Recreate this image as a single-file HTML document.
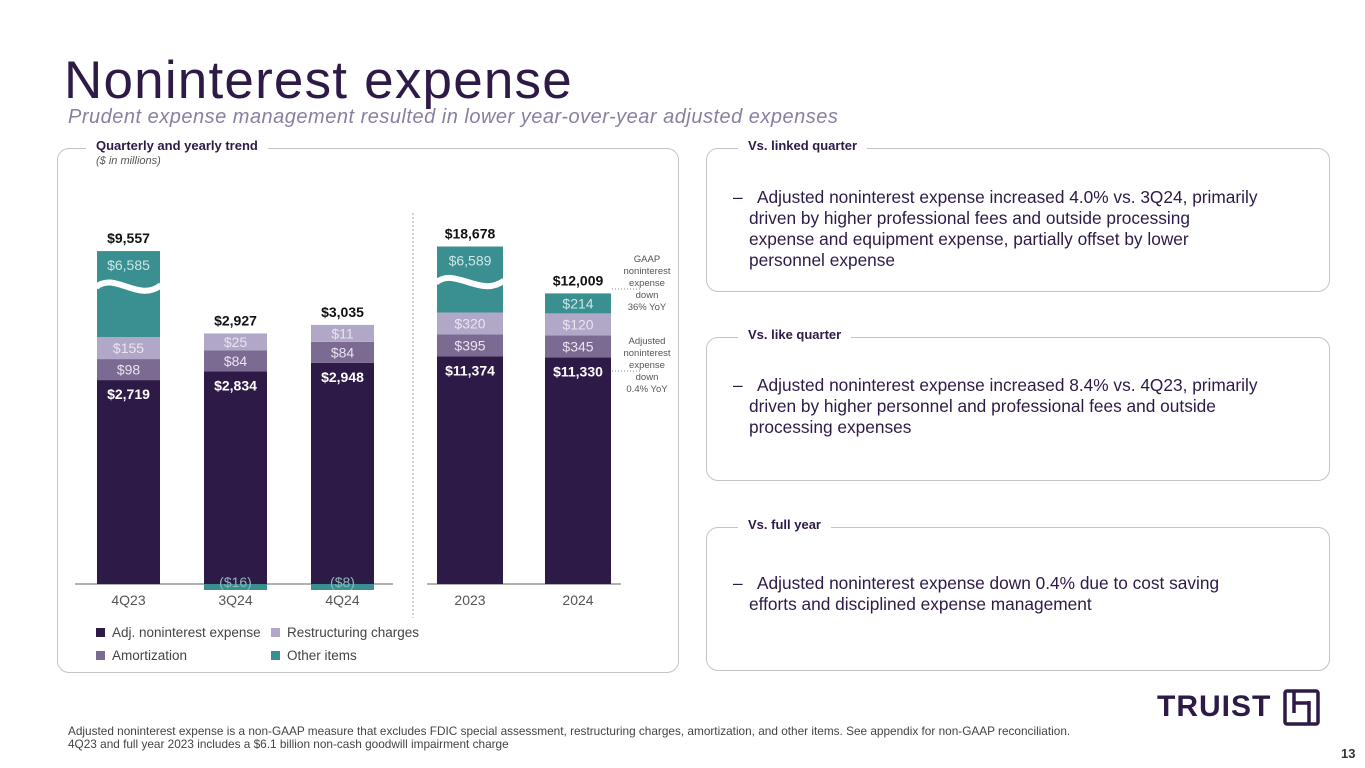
<!DOCTYPE html>
<html><head><meta charset="utf-8"><style>
body{margin:0;width:1365px;height:768px;background:#fff;font-family:"Liberation Sans",sans-serif;position:relative;overflow:hidden;color:#2e1a47}
.abs{position:absolute}
.box{position:absolute;border:1.5px solid #c4c4c8;border-radius:12px}
.hdr{position:absolute;background:#fff;padding:0 10px;font-weight:bold;font-size:13px;color:#2e1a47}
.txt{position:absolute;font-size:17.3px;line-height:21px;color:#2e1a47}
</style></head><body>
<div class="abs" style="left:64px;top:50px;font-size:53px;letter-spacing:1.2px;color:#2e1a47">Noninterest expense</div>
<div class="abs" style="left:68px;top:106px;font-size:20px;letter-spacing:0.5px;font-style:italic;color:#8a7fa0">Prudent expense management resulted in lower year-over-year adjusted expenses</div>

<div class="box" style="left:57px;top:148px;width:620px;height:523px"></div>
<div class="hdr" style="left:86px;top:138px">Quarterly and yearly trend</div>
<div class="abs" style="left:96px;top:155px;font-size:11px;font-style:italic;color:#555">($ in millions)</div>

<div class="box" style="left:706px;top:148px;width:622px;height:142px"></div>
<div class="hdr" style="left:738px;top:138px">Vs. linked quarter</div>
<div class="txt" style="left:733px;top:187px;width:590px">–&nbsp;&nbsp;&nbsp;Adjusted noninterest expense increased 4.0% vs. 3Q24, primarily<br><span style="padding-left:16px">driven by higher professional fees and outside processing</span><br><span style="padding-left:16px">expense and equipment expense, partially offset by lower</span><br><span style="padding-left:16px">personnel expense</span></div>

<div class="box" style="left:706px;top:337px;width:622px;height:142px"></div>
<div class="hdr" style="left:738px;top:327px">Vs. like quarter</div>
<div class="txt" style="left:733px;top:375px;width:590px">–&nbsp;&nbsp;&nbsp;Adjusted noninterest expense increased 8.4% vs. 4Q23, primarily<br><span style="padding-left:16px">driven by higher personnel and professional fees and outside</span><br><span style="padding-left:16px">processing expenses</span></div>

<div class="box" style="left:706px;top:527px;width:622px;height:142px"></div>
<div class="hdr" style="left:738px;top:517px">Vs. full year</div>
<div class="txt" style="left:733px;top:573px;width:590px">–&nbsp;&nbsp;&nbsp;Adjusted noninterest expense down 0.4% due to cost saving<br><span style="padding-left:16px">efforts and disciplined expense management</span></div>

<svg class="abs" style="left:0;top:0" width="700" height="700" id="chart"></svg>

<div class="abs" style="left:68px;top:725px;font-size:11.8px;line-height:13px;color:#444">Adjusted noninterest expense is a non-GAAP measure that excludes FDIC special assessment, restructuring charges, amortization, and other items. See appendix for non-GAAP reconciliation.<br>4Q23 and full year 2023 includes a $6.1 billion non-cash goodwill impairment charge</div>
<div class="abs" style="left:1157px;top:690px;font-size:30px;font-weight:bold;letter-spacing:1px;color:#2e1a47">TRUIST</div>
<svg class="abs" style="left:1283px;top:689px" width="38" height="38"><rect x="2" y="2" width="33" height="33" fill="none" stroke="#2e1a47" stroke-width="3.5" rx="2"/><path d="M11 2V24M11 14H26M26 12V35" stroke="#2e1a47" stroke-width="3.5" fill="none"/></svg>
<div class="abs" style="left:1341px;top:746px;font-size:13px;font-weight:bold;color:#333">13</div>

<script>
const quarterCats=["4Q23","3Q24","4Q24"];
const quarterAdj=[2719,2834,2948];
const quarterAmort=[98,84,84];
const quarterRestr=[155,25,11];
const quarterOther=[6585,-16,-8];
const quarterTotal=[9557,2927,3035];
const yearCats=["2023","2024"];
const yearAdj=[11374,11330];
const yearAmort=[395,345];
const yearRestr=[320,120];
const yearOther=[6589,214];
const yearTotal=[18678,12009];

const svg=document.getElementById('chart');
const NS='http://www.w3.org/2000/svg';
const C={adj:'#2e1a47',amort:'#7b6a91',restr:'#b1a8c7',other:'#3a8f91'};
function el(t,a,p){const e=document.createElementNS(NS,t);for(const k in a)e.setAttribute(k,a[k]);(p||svg).appendChild(e);return e;}
function text(x,y,s,opt){const t=el('text',Object.assign({x:x,y:y,'text-anchor':'middle','font-family':'"Liberation Sans",sans-serif','font-size':14},opt||{}));t.textContent=s;return t;}
function fmt(v){const s='$'+Math.abs(v).toLocaleString('en-US');return v<0?'('+s+')':s;}
const base=584;
function drawGroup(cats,adj,amort,restr,other,total,xs,w,k,prefix){
  cats.forEach((c,i)=>{
    const x=xs[i];
    let top=base-adj[i]*k;
    const r=el('rect',{x:x,y:top,width:w,height:adj[i]*k,fill:C.adj});
    
    
    text(x+w/2,top+19,fmt(adj[i]),{fill:'#fff','font-weight':'bold'});
    const segs=[[amort[i],C.amort,'amort'],[restr[i],C.restr,'restr']];
    segs.forEach(s=>{
      const h=Math.max(s[0]*k,s[0]>=100?22:(s[0]>=50?21:17));
      top-=h;
      const sr=el('rect',{x:x,y:top,width:w,height:h,fill:s[1]});
      
      
      text(x+w/2,top+h/2+5,fmt(s[0]),{fill:'#e8e4f0'});
    });
    const ov=other[i];
    if(ov<0){
      const h=Math.max(-ov*k,6);
      const orr=el('rect',{x:x,y:base,width:w,height:h,fill:C.other});
      
      
      text(x+w/2,base+3,fmt(ov),{fill:'#8fb8ba'});
      text(x+w/2,top-8,fmt(total[i]),{fill:'#111','font-weight':'bold'});
    } else {
      const broken=ov*k>100;
      const h=broken?(prefix==='q'?86:66):Math.max(ov*k,20);
      top-=h;
      const orr=el('rect',{x:x,y:top,width:w,height:h,fill:C.other});
      
      
      if(broken){
        const wy=top+30;
        const wv=el('path',{d:`M${x-1} ${wy+6} C${x+18} ${wy-10},${x+w-22} ${wy+22},${x+w+1} ${wy+4}`,stroke:'#fff','stroke-width':6,fill:'none'});
        
        
      }
      text(x+w/2,top+(broken?19:h/2+5),fmt(ov),{fill:'#cfe6e6'});
      text(x+w/2,top-8,fmt(total[i]),{fill:'#111','font-weight':'bold'});
    }
    text(x+w/2,base+21,c,{fill:'#555'});
  });
}
el('line',{x1:75,y1:base,x2:393,y2:base,stroke:'#999','stroke-width':1.5});
el('line',{x1:427,y1:base,x2:621,y2:base,stroke:'#999','stroke-width':1.5});
el('line',{x1:413,y1:213,x2:413,y2:618,stroke:'#aaa','stroke-width':1,'stroke-dasharray':'2,2'});
drawGroup(quarterCats,quarterAdj,quarterAmort,quarterRestr,quarterOther,quarterTotal,[97,204,311],63,0.075,'q');
drawGroup(yearCats,yearAdj,yearAmort,yearRestr,yearOther,yearTotal,[437,545],66,0.02,'y');
// annotations
el('line',{x1:612,y1:289,x2:642,y2:289,stroke:'#888','stroke-dasharray':'1,2'});
el('line',{x1:612,y1:371,x2:642,y2:371,stroke:'#888','stroke-dasharray':'1,2'});
["GAAP","noninterest","expense","down","36% YoY"].forEach((s,i)=>text(647,262+i*12,s,{'font-size':9.5,fill:'#555'}));
["Adjusted","noninterest","expense","down","0.4% YoY"].forEach((s,i)=>text(647,344+i*12,s,{'font-size':9.5,fill:'#555'}));
// legend
const legend=[["Adj. noninterest expense",C.adj,96,633],["Restructuring charges",C.restr,271,633],["Amortization",C.amort,96,656],["Other items",C.other,271,656]];
legend.forEach(l=>{
  const g=el('g',{});
  
  
  el('rect',{x:l[2],y:l[3]-5,width:9,height:9,fill:l[1]},g);
  const t=el('text',{x:l[2]+16,y:l[3]+4,'font-family':'"Liberation Sans",sans-serif','font-size':13.5,fill:'#444'},g);t.textContent=l[0];
});
</script>
</body></html>
